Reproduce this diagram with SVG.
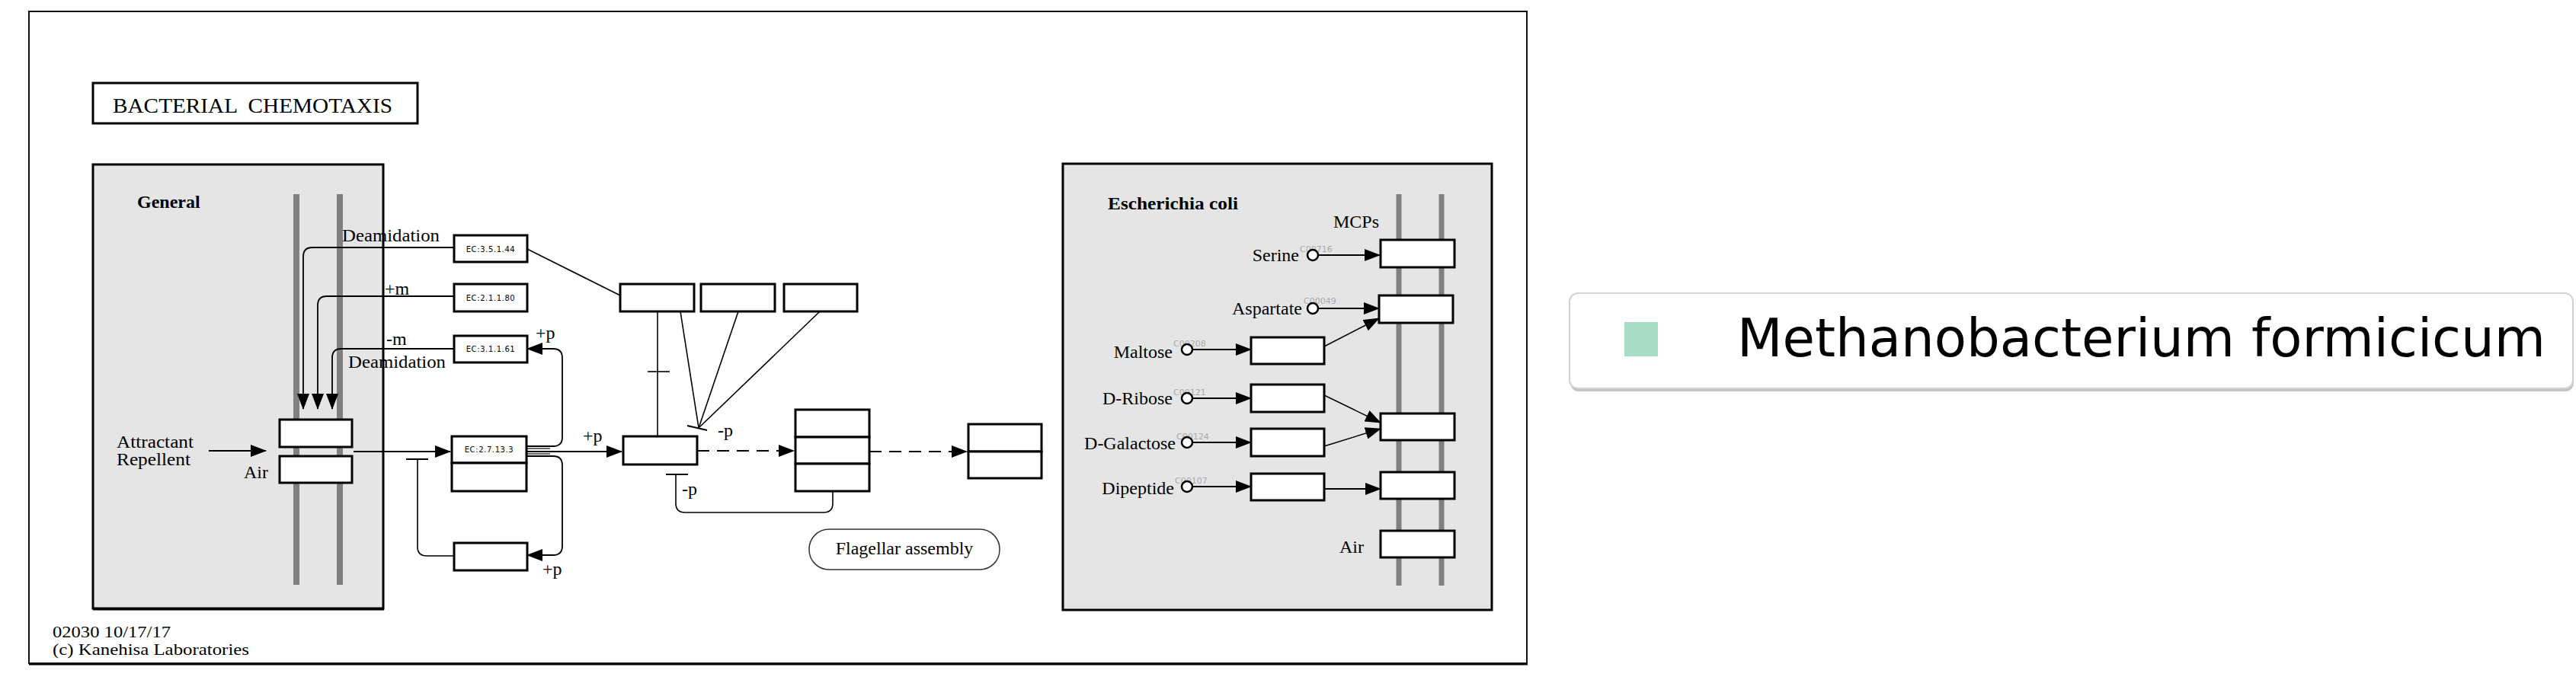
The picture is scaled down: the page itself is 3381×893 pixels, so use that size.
<svg xmlns="http://www.w3.org/2000/svg" width="3381" height="893" viewBox="0 0 3381 893">
<defs>
<marker id="ah" markerUnits="userSpaceOnUse" markerWidth="21" markerHeight="16" refX="20" refY="8" orient="auto">
<path d="M0,0 L21,8 L0,16 z" fill="#000"/>
</marker>
<style>
.box{fill:#fff;stroke:#000;stroke-width:3}
.ln{fill:none;stroke:#000;stroke-width:1.6}
.arr{fill:none;stroke:#000;stroke-width:1.8;marker-end:url(#ah)}
.dash{fill:none;stroke:#000;stroke-width:1.8;stroke-dasharray:16 10;marker-end:url(#ah)}
.bar{stroke:#808080;stroke-width:8}
.t{font-family:"Liberation Serif","Times New Roman",serif;font-size:24px;fill:#000}
.tb{font-family:"Liberation Serif","Times New Roman",serif;font-size:24px;font-weight:bold;fill:#000}
.ec{font-family:"DejaVu Sans",sans-serif;font-size:10px;fill:#000;text-anchor:middle;letter-spacing:0.6px}
.cid{font-family:"DejaVu Sans",sans-serif;font-size:11px;fill:#aaa}
.cpd{fill:#fff;stroke:#000;stroke-width:2.5}
.panel{fill:#e5e5e5;stroke:#000;stroke-width:3}
</style>
</defs>
<rect x="0" y="0" width="3381" height="893" fill="#fff"/>
<g id="frame">
<rect x="38" y="15" width="1966" height="856" fill="#fff" stroke="#111" stroke-width="2"/>
<line x1="38" y1="872" x2="2005" y2="872" stroke="#000" stroke-width="3"/>
</g>
<g id="title">
<rect x="122" y="109" width="426" height="53" fill="#fff" stroke="#000" stroke-width="3"/>
<text x="148" y="148" class="t" xml:space="preserve" textLength="367" lengthAdjust="spacingAndGlyphs" style="font-size:27px;white-space:pre">BACTERIAL  CHEMOTAXIS</text>
</g>
<g id="panel-general">
<rect x="122" y="216" width="381" height="583" class="panel"/>
<line x1="122" y1="800" x2="504" y2="800" stroke="#000" stroke-width="3"/>
<text x="180" y="273" class="tb">General</text>
<line x1="389" y1="255" x2="389" y2="768" class="bar"/>
<line x1="446" y1="255" x2="446" y2="768" class="bar"/>
</g>
<g id="panel-ecoli">
<rect x="1395" y="215" width="563" height="586" class="panel"/>
<text x="1454" y="275" class="tb" textLength="171" lengthAdjust="spacingAndGlyphs">Escherichia coli</text>
<line x1="1836" y1="255" x2="1836" y2="769" class="bar" style="stroke-width:7"/>
<line x1="1892" y1="255" x2="1892" y2="769" class="bar" style="stroke-width:7"/>
<text x="1750" y="299" class="t">MCPs</text>
</g>

<g id="connectors">
<path d="M596,325 H410 Q398,325 398,337 V537" class="arr"/>
<path d="M596,389 H429 Q417,389 417,401 V537" class="arr"/>
<path d="M596,458 H448 Q436,458 436,470 V537" class="arr"/>
<path d="M274,592 H349" class="arr"/>
<path d="M464,593 H591" class="arr"/>
<path d="M596,730 H560 Q548,730 548,718 V603" class="ln"/>
<path d="M533,603 H562" class="ln" style="stroke-width:2"/>
<path d="M691,586 H726 Q738,586 738,574 V470 Q738,458 726,458 H692" class="arr"/>
<path d="M691,589 H722" class="ln" style="stroke-width:1.2"/>
<path d="M691,599 H726 Q738,599 738,611 V717 Q738,729 726,729 H692" class="arr"/>
<path d="M691,596 H722" class="ln" style="stroke-width:1.2"/>
<path d="M691,593 H816" class="arr"/>
<path d="M692,327 L814,388" class="ln"/>
<path d="M863,409 V573" class="ln"/>
<path d="M850,488 H879" class="ln"/>
<path d="M893,409 L917,562" class="ln"/>
<path d="M969,409 L917,562" class="ln"/>
<path d="M1076,409 L917,562" class="ln"/>
<path d="M902,559 L928,565" class="ln" style="stroke-width:2.2"/>
<path d="M915,592 H1042" class="dash"/>
<path d="M1141,593 H1269" class="dash"/>
<path d="M1093,645 V661 Q1093,673 1081,673 H899 Q887,673 887,661 V623" class="ln"/>
<path d="M874,623 H903" class="ln" style="stroke-width:2"/>
<path d="M1730,335 H1811" class="arr"/>
<path d="M1730,405 H1810" class="arr"/>
<path d="M1565,459 H1642" class="arr"/>
<path d="M1565,523 H1642" class="arr"/>
<path d="M1565,581 H1642" class="arr"/>
<path d="M1565,639 H1642" class="arr"/>
<path d="M1738,455 L1810,418" class="arr" style="stroke-width:1.5"/>
<path d="M1738,519 L1812,555" class="arr" style="stroke-width:1.5"/>
<path d="M1738,586 L1812,563" class="arr" style="stroke-width:1.5"/>
<path d="M1738,642 H1812" class="arr"/>
</g>

<g id="receptor-1"><rect x="367" y="551" width="95" height="36" class="box"/></g>
<g id="receptor-2"><rect x="367" y="599" width="95" height="35" class="box"/></g>
<g id="ec-3-5-1-44"><rect x="596" y="309" width="96" height="35" class="box"/><text x="644" y="331" class="ec">EC:3.5.1.44</text></g>
<g id="ec-2-1-1-80"><rect x="596" y="373" width="96" height="36" class="box"/><text x="644" y="395" class="ec">EC:2.1.1.80</text></g>
<g id="ec-3-1-1-61"><rect x="596" y="441" width="96" height="35" class="box"/><text x="644" y="462" class="ec">EC:3.1.1.61</text></g>
<g id="ec-2-7-13-3"><rect x="593" y="573" width="98" height="35" class="box"/><rect x="593" y="608" width="98" height="37" class="box"/><text x="642" y="594" class="ec">EC:2.7.13.3</text></g>
<g id="cheB-bottom"><rect x="596" y="713" width="96" height="36" class="box"/></g>
<g id="top-1"><rect x="814" y="373" width="97" height="36" class="box"/></g>
<g id="top-2"><rect x="920" y="373" width="97" height="36" class="box"/></g>
<g id="top-3"><rect x="1029" y="373" width="96" height="36" class="box"/></g>
<g id="cheY"><rect x="818" y="573" width="97" height="37" class="box"/></g>
<g id="motor"><rect x="1044" y="538" width="97" height="36" class="box"/><rect x="1044" y="574" width="97" height="35" class="box"/><rect x="1044" y="609" width="97" height="36" class="box"/></g>
<g id="flagellum"><rect x="1271" y="557" width="96" height="36" class="box"/><rect x="1271" y="593" width="96" height="35" class="box"/></g>
<g id="flagellar-assembly"><rect x="1062" y="695" width="250" height="53" rx="26" fill="#fff" stroke="#333" stroke-width="1.5"/><text x="1187" y="728" class="t" text-anchor="middle">Flagellar assembly</text></g>

<g id="labels-general">
<text x="449" y="317" class="t" textLength="128" lengthAdjust="spacingAndGlyphs">Deamidation</text>
<text x="505" y="387" class="t">+m</text>
<text x="507" y="453" class="t">-m</text>
<text x="457" y="483" class="t" textLength="128" lengthAdjust="spacingAndGlyphs">Deamidation</text>
<text x="703" y="445" class="t">+p</text>
<text x="153" y="588" class="t" textLength="101" lengthAdjust="spacingAndGlyphs">Attractant</text>
<text x="153" y="611" class="t" textLength="97" lengthAdjust="spacingAndGlyphs">Repellent</text>
<text x="320" y="628" class="t">Air</text>
<text x="765" y="580" class="t">+p</text>
<text x="712" y="755" class="t">+p</text>
<text x="942" y="573" class="t">-p</text>
<text x="895" y="650" class="t">-p</text>
</g>

<g id="mcp-serine"><rect x="1812" y="315" width="97" height="36" class="box"/></g>
<g id="mcp-aspartate"><rect x="1810" y="388" width="97" height="36" class="box"/></g>
<g id="mcp-3"><rect x="1812" y="543" width="97" height="35" class="box"/></g>
<g id="mcp-4"><rect x="1812" y="620" width="97" height="35" class="box"/></g>
<g id="aer"><rect x="1812" y="697" width="97" height="35" class="box"/><text x="1758" y="726" class="t">Air</text></g>
<g id="malE"><rect x="1642" y="443" width="96" height="35" class="box"/></g>
<g id="rbsB"><rect x="1642" y="505" width="96" height="36" class="box"/></g>
<g id="mglB"><rect x="1642" y="563" width="96" height="36" class="box"/></g>
<g id="dppA"><rect x="1642" y="622" width="96" height="35" class="box"/></g>

<g id="cpd-serine"><text x="1706" y="331" class="cid">C00716</text><circle cx="1723" cy="335" r="7" class="cpd"/><text x="1705" y="343" class="t" text-anchor="end">Serine</text></g>
<g id="cpd-aspartate"><text x="1711" y="399" class="cid">C00049</text><circle cx="1723" cy="405" r="7" class="cpd"/><text x="1709" y="413" class="t" text-anchor="end">Aspartate</text></g>
<g id="cpd-maltose"><text x="1540" y="455" class="cid">C00208</text><circle cx="1558" cy="459" r="7" class="cpd"/><text x="1539" y="470" class="t" text-anchor="end">Maltose</text></g>
<g id="cpd-ribose"><text x="1540" y="519" class="cid">C00121</text><circle cx="1558" cy="523" r="7" class="cpd"/><text x="1539" y="531" class="t" text-anchor="end">D-Ribose</text></g>
<g id="cpd-galactose"><text x="1544" y="577" class="cid">C00124</text><circle cx="1558" cy="581" r="7" class="cpd"/><text x="1543" y="590" class="t" text-anchor="end">D-Galactose</text></g>
<g id="cpd-dipeptide"><text x="1542" y="635" class="cid">C00107</text><circle cx="1558" cy="639" r="7" class="cpd"/><text x="1541" y="649" class="t" text-anchor="end">Dipeptide</text></g>

<g id="footer">
<text x="69" y="837" class="t" style="font-size:22px" textLength="155" lengthAdjust="spacingAndGlyphs">02030 10/17/17</text>
<text x="69" y="860" class="t" style="font-size:22px" textLength="258" lengthAdjust="spacingAndGlyphs">(c) Kanehisa Laboratories</text>
</g>

<g id="legend">
<rect x="2061" y="389" width="1317" height="125" rx="11" fill="#c4c4c4"/>
<rect x="2060" y="385" width="1317" height="125" rx="11" fill="#fff" stroke="#d2d2d2" stroke-width="2"/>
<rect x="2132" y="423" width="44" height="45" fill="#a8dcc5"/>
<text x="2280" y="468" font-family="DejaVu Sans, sans-serif" font-size="69" fill="#000">Methanobacterium formicicum</text>
</g>
</svg>
